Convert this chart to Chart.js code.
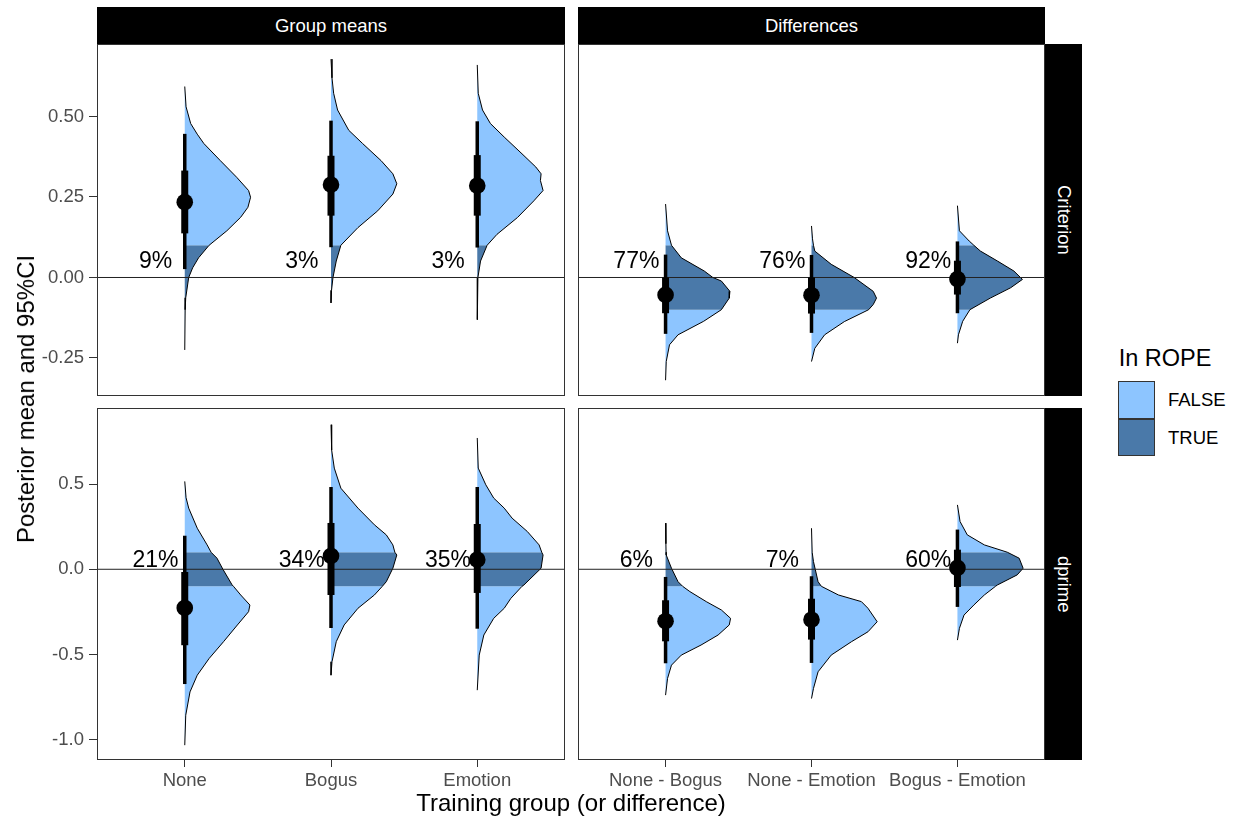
<!DOCTYPE html>
<html>
<head>
<meta charset="utf-8">
<title>Posterior means and differences</title>
<script src="https://cdn.jsdelivr.net/npm/chart.js@4.4.1/dist/chart.umd.min.js"></script>
<style>
  html, body { margin: 0; padding: 0; background: #fff; }
  body { width: 1236px; height: 818px; position: relative; overflow: hidden; font-family: "Liberation Sans", Arial, sans-serif; }
  canvas { position: absolute; }
  .strip { position: absolute; background: #000; color: #fff; font-size: 18.5px; display: flex; align-items: center; justify-content: center; }
  .vert { writing-mode: vertical-rl; }
  .title { position: absolute; font-size: 24px; color: #000; white-space: nowrap; transform: translate(-50%, -50%); line-height: 28px; }
  .key { position: absolute; left: 1118px; width: 37px; height: 38px; border: 1px solid #333; box-sizing: border-box; }
  .keylab { position: absolute; left: 1168px; font-size: 18.5px; color: #000; line-height: 20px; white-space: nowrap; }
</style>
</head>
<body>
<canvas id="critGroup" width="570" height="392" style="left:0px;top:24px"></canvas>
<canvas id="critDiff" width="477" height="392" style="left:573px;top:24px"></canvas>
<canvas id="dpGroup" width="570" height="402" style="left:0px;top:388px"></canvas>
<canvas id="dpDiff" width="477" height="402" style="left:573px;top:388px"></canvas>

<div class="strip" style="left:97px;top:7px;width:468px;height:37px">Group means</div>
<div class="strip" style="left:578px;top:7px;width:467px;height:37px">Differences</div>
<div class="strip vert" style="left:1045px;top:44px;width:37px;height:352px">Criterion</div>
<div class="strip vert" style="left:1045px;top:408px;width:37px;height:352px">dprime</div>

<div class="title" style="left:26px;top:399px;transform:translate(-50%,-50%) rotate(-90deg)">Posterior mean and 95%CI</div>
<div class="title" style="left:571px;top:803px">Training group (or difference)</div>

<div class="title" style="left:1165px;top:358px;font-size:23.5px">In ROPE</div>
<div class="key" style="top:381px;background:#8DC5FF"></div>
<div class="key" style="top:419px;height:37px;background:#4A79A9"></div>
<div class="keylab" style="top:390px">FALSE</div>
<div class="keylab" style="top:428px">TRUE</div>

<script>
// Category labels and axis ticks
const groupLabels = ['None', 'Bogus', 'Emotion'];
const diffLabels = ['None - Bogus', 'None - Emotion', 'Bogus - Emotion'];
const criterionTicks = [0.5, 0.25, 0, -0.25];
const criterionTickLabels = ['0.50', '0.25', '0.00', '-0.25'];
const dprimeTicks = [0.5, 0, -0.5, -1];
const dprimeTickLabels = ['0.5', '0.0', '-0.5', '-1.0'];

// Posterior density profiles: [value, density relative to the slab's peak]
const critNone = [[0.593,0],[0.53,0.02],[0.478,0.09],[0.445,0.19],[0.416,0.29],[0.363,0.54],[0.311,0.79],[0.27,0.97],[0.249,1.0],[0.218,0.96],[0.187,0.85],[0.145,0.64],[0.1,0.37],[0.061,0.21],[0.03,0.12],[0.0,0.06],[-0.063,0.015],[-0.1,0.006],[-0.225,0]];
const critBogus = [[0.678,0],[0.62,0.015],[0.572,0.04],[0.52,0.1],[0.457,0.27],[0.416,0.48],[0.363,0.76],[0.322,0.94],[0.291,1.0],[0.259,0.94],[0.207,0.71],[0.155,0.41],[0.1,0.15],[0.051,0.08],[0.0,0.03],[-0.04,0.008],[-0.079,0]];
const critEmotion = [[0.66,0],[0.572,0.015],[0.52,0.08],[0.478,0.2],[0.436,0.41],[0.384,0.68],[0.343,0.89],[0.322,0.97],[0.301,0.96],[0.27,1.0],[0.238,0.86],[0.186,0.61],[0.134,0.3],[0.1,0.15],[0.051,0.05],[0.0,0.01],[-0.1,0.002],[-0.131,0]];
const critNoneBogus = [[0.228,0],[0.145,0.03],[0.1,0.09],[0.061,0.24],[0.02,0.59],[0.0,0.72],[-0.011,0.85],[-0.043,0.98],[-0.064,0.97],[-0.1,0.85],[-0.136,0.58],[-0.178,0.19],[-0.209,0.06],[-0.261,0.01],[-0.319,0]];
const critNoneEmotion = [[0.16,0],[0.12,0.015],[0.1,0.03],[0.082,0.05],[0.041,0.3],[0.0,0.65],[-0.043,0.94],[-0.064,0.99],[-0.084,0.94],[-0.1,0.87],[-0.137,0.5],[-0.178,0.2],[-0.22,0.05],[-0.261,0]];
const critBogusEmotion = [[0.223,0],[0.145,0.03],[0.113,0.18],[0.1,0.25],[0.082,0.35],[0.051,0.61],[0.02,0.86],[-0.006,0.99],[-0.032,0.81],[-0.064,0.5],[-0.1,0.19],[-0.136,0.08],[-0.178,0.015],[-0.204,0]];
const dpNone = [[0.516,0],[0.42,0.02],[0.359,0.06],[0.241,0.19],[0.143,0.34],[0.1,0.4],[0.065,0.49],[0.0,0.58],[-0.092,0.72],[-0.1,0.74],[-0.151,0.85],[-0.21,0.99],[-0.249,0.97],[-0.327,0.8],[-0.425,0.59],[-0.524,0.37],[-0.622,0.19],[-0.72,0.08],[-0.857,0.015],[-1.033,0]];
const dpBogus = [[0.849,0],[0.7,0.01],[0.594,0.05],[0.476,0.15],[0.359,0.41],[0.261,0.66],[0.202,0.84],[0.143,0.94],[0.1,0.97],[0.084,1.0],[0.006,0.94],[-0.073,0.84],[-0.1,0.78],[-0.151,0.66],[-0.229,0.41],[-0.327,0.2],[-0.425,0.08],[-0.543,0.015],[-0.622,0]];
const dpEmotion = [[0.771,0],[0.594,0.015],[0.496,0.13],[0.418,0.25],[0.359,0.41],[0.3,0.53],[0.222,0.76],[0.143,0.94],[0.1,0.98],[0.084,1.0],[0.006,0.97],[-0.092,0.71],[-0.1,0.68],[-0.171,0.51],[-0.229,0.41],[-0.288,0.25],[-0.386,0.1],[-0.504,0.03],[-0.71,0]];
const dpNoneBogus = [[0.271,0],[0.15,0.005],[0.1,0.008],[0.084,0.01],[0.006,0.09],[-0.073,0.19],[-0.1,0.26],[-0.131,0.37],[-0.19,0.62],[-0.239,0.85],[-0.288,0.99],[-0.327,0.97],[-0.386,0.8],[-0.445,0.54],[-0.504,0.24],[-0.563,0.09],[-0.641,0.03],[-0.739,0]];
const dpNoneEmotion = [[0.241,0],[0.1,0.01],[0.045,0.03],[-0.073,0.1],[-0.1,0.15],[-0.151,0.41],[-0.19,0.76],[-0.229,0.86],[-0.308,1.0],[-0.367,0.86],[-0.425,0.61],[-0.504,0.3],[-0.602,0.1],[-0.7,0.03],[-0.759,0]];
const dpBogusEmotion = [[0.378,0],[0.28,0.04],[0.202,0.15],[0.143,0.41],[0.1,0.76],[0.065,0.94],[0.006,1.0],[-0.033,0.91],[-0.092,0.61],[-0.1,0.58],[-0.151,0.41],[-0.21,0.25],[-0.269,0.1],[-0.347,0.03],[-0.416,0]];

// Posterior means, 66% and 95% intervals [low, high]
const critGroupMean = [0.234, 0.288, 0.285];
const critGroup66 = [[0.137, 0.332], [0.192, 0.378], [0.192, 0.380]];
const critGroup95 = [[0.026, 0.446], [0.094, 0.487], [0.093, 0.485]];
const critDiffMean = [-0.054, -0.055, -0.005];
const critDiff66 = [[-0.111, 0.0], [-0.112, 0.0], [-0.053, 0.052]];
const critDiff95 = [[-0.175, 0.071], [-0.172, 0.07], [-0.111, 0.112]];
const dpGroupMean = [-0.227, 0.078, 0.056];
const dpGroup66 = [[-0.446, -0.016], [-0.151, 0.272], [-0.139, 0.266]];
const dpGroup95 = [[-0.674, 0.197], [-0.345, 0.483], [-0.349, 0.483]];
const dpDiffMean = [-0.305, -0.296, 0.008];
const dpDiff66 = [[-0.423, -0.182], [-0.413, -0.173], [-0.104, 0.115]];
const dpDiff95 = [[-0.552, -0.045], [-0.550, -0.041], [-0.221, 0.233]];

// Share of each posterior inside the ROPE
const critGroupRope = ['9%', '3%', '3%'];
const critDiffRope = ['77%', '76%', '92%'];
const dpGroupRope = ['21%', '34%', '35%'];
const dpDiffRope = ['6%', '7%', '60%'];

const ROPE_LO = -0.1, ROPE_HI = 0.1;
const FALSE_FILL = '#8DC5FF';
const TRUE_FILL = '#4A79A9';
const SLAB_SCALE = 0.45;
const X_MIN = 0.4, X_MAX = 3.6;
const FONT = '"Liberation Sans", Arial, sans-serif';

Chart.defaults.font.family = FONT;
Chart.defaults.color = '#4D4D4D';

// Half-eye slab: filled pieces split at the ROPE limits plus the outline
function slabDatasets(profile, pos) {
  const sets = [];
  const bands = [
    { lo: ROPE_HI, hi: Infinity, color: FALSE_FILL },
    { lo: ROPE_LO, hi: ROPE_HI, color: TRUE_FILL },
    { lo: -Infinity, hi: ROPE_LO, color: FALSE_FILL }
  ];
  bands.forEach(b => {
    const part = profile.filter(([v]) => v >= b.lo - 1e-9 && v <= b.hi + 1e-9);
    if (part.length < 2) return;
    const pts = [{ x: pos, y: part[0][0] }]
      .concat(part.map(([v, d]) => ({ x: pos + d * SLAB_SCALE, y: v })))
      .concat([{ x: pos, y: part[part.length - 1][0] }]);
    sets.push({ data: pts, fill: 'shape', backgroundColor: b.color, borderWidth: 0,
      pointRadius: 0, order: 4, indexAxis: 'y' });
  });
  sets.push({ data: profile.map(([v, d]) => ({ x: pos + d * SLAB_SCALE, y: v })),
    fill: false, borderColor: '#000', borderWidth: 1, pointRadius: 0, order: 3, indexAxis: 'y' });
  return sets;
}

function decorPlugin(labels) {
  return {
    id: 'panelDecor',
    afterDatasetsDraw(chart) {
      const { ctx, chartArea: a } = chart;
      const xs = chart.scales.x, ys = chart.scales.y;
      ctx.save();
      ctx.font = '23px ' + FONT;
      ctx.fillStyle = '#000';
      ctx.textAlign = 'center';
      ctx.textBaseline = 'middle';
      labels.forEach((t, i) => ctx.fillText(t, xs.getPixelForValue(i + 1 - 0.2), ys.getPixelForValue(0.05)));
      ctx.strokeStyle = '#333';
      ctx.lineWidth = 1;
      ctx.strokeRect(a.left + 0.5, a.top + 0.5, a.right - a.left - 1, a.bottom - a.top - 1);
      ctx.restore();
    }
  };
}

function drawPanel(id, cfg) {
  const datasets = [];
  cfg.profiles.forEach((p, i) => datasets.push(...slabDatasets(p, i + 1)));
  datasets.push({ data: [{ x: X_MIN, y: 0 }, { x: X_MAX, y: 0 }], borderColor: '#222', borderWidth: 1,
    pointRadius: 0, fill: false, order: 2, indexAxis: 'y' });
  cfg.means.forEach((m, i) => {
    const pos = i + 1;
    datasets.push({ data: [{ x: pos, y: cfg.qi95[i][0] }, { x: pos, y: cfg.qi95[i][1] }], borderColor: '#000',
      borderWidth: 3.5, borderCapStyle: 'butt', pointRadius: 0, fill: false, order: 1, indexAxis: 'y' });
    datasets.push({ data: [{ x: pos, y: cfg.qi66[i][0] }, { x: pos, y: cfg.qi66[i][1] }], borderColor: '#000',
      borderWidth: 7, borderCapStyle: 'butt', pointRadius: 0, fill: false, order: 1, indexAxis: 'y' });
    datasets.push({ data: [{ x: pos, y: m }], showLine: false, pointRadius: 8.3, pointBackgroundColor: '#000',
      pointBorderWidth: 0, order: 0, indexAxis: 'y' });
  });

  new Chart(document.getElementById(id), {
    type: 'line',
    data: { datasets },
    plugins: [decorPlugin(cfg.rope)],
    options: {
      responsive: false,
      animation: false,
      events: [],
      indexAxis: 'y',
      layout: { padding: cfg.padding, autoPadding: false },
      plugins: { legend: { display: false }, tooltip: { enabled: false } },
      elements: { line: { tension: 0 } },
      scales: {
        x: {
          type: 'linear', min: X_MIN, max: X_MAX, bounds: 'data', display: cfg.showX,
          afterBuildTicks: s => { s.ticks = cfg.cats.map((c, i) => ({ value: i + 1 })); },
          afterFit: s => { s.height = cfg.showX ? 30 : 0; },
          ticks: { callback: v => cfg.cats[Math.round(v) - 1], color: '#4D4D4D', font: { size: 18.5 },
            padding: 3, autoSkip: false, maxRotation: 0 },
          grid: { drawOnChartArea: false, drawTicks: true, tickLength: 7, color: '#333' },
          border: { display: false }
        },
        y: {
          type: 'linear', min: cfg.yMin, max: cfg.yMax, bounds: 'data', display: cfg.showY,
          afterBuildTicks: s => { s.ticks = cfg.yTicks.map(v => ({ value: v })); },
          afterFit: s => { s.width = cfg.showY ? 97 : 0; },
          ticks: { callback: (v, i) => cfg.yTickLabels[i], color: '#4D4D4D', font: { size: 18.5 },
            padding: 5, autoSkip: false },
          grid: { drawOnChartArea: false, drawTicks: true, tickLength: 8, color: '#333' },
          border: { display: false }
        }
      }
    }
  });
}

drawPanel('critGroup', {
  cats: groupLabels, profiles: [critNone, critBogus, critEmotion],
  means: critGroupMean, qi66: critGroup66, qi95: critGroup95, rope: critGroupRope,
  yMin: -0.368, yMax: 0.725, yTicks: criterionTicks, yTickLabels: criterionTickLabels,
  showX: false, showY: true, padding: { left: 0, top: 20, right: 5, bottom: 20 }
});
drawPanel('critDiff', {
  cats: diffLabels, profiles: [critNoneBogus, critNoneEmotion, critBogusEmotion],
  means: critDiffMean, qi66: critDiff66, qi95: critDiff95, rope: critDiffRope,
  yMin: -0.368, yMax: 0.725, yTicks: criterionTicks, yTickLabels: criterionTickLabels,
  showX: false, showY: false, padding: { left: 5, top: 20, right: 5, bottom: 20 }
});
drawPanel('dpGroup', {
  cats: groupLabels, profiles: [dpNone, dpBogus, dpEmotion],
  means: dpGroupMean, qi66: dpGroup66, qi95: dpGroup95, rope: dpGroupRope,
  yMin: -1.12, yMax: 0.947, yTicks: dprimeTicks, yTickLabels: dprimeTickLabels,
  showX: true, showY: true, padding: { left: 0, top: 20, right: 5, bottom: 0 }
});
drawPanel('dpDiff', {
  cats: diffLabels, profiles: [dpNoneBogus, dpNoneEmotion, dpBogusEmotion],
  means: dpDiffMean, qi66: dpDiff66, qi95: dpDiff95, rope: dpDiffRope,
  yMin: -1.12, yMax: 0.947, yTicks: dprimeTicks, yTickLabels: dprimeTickLabels,
  showX: true, showY: false, padding: { left: 5, top: 20, right: 5, bottom: 0 }
});
</script>
</body>
</html>
